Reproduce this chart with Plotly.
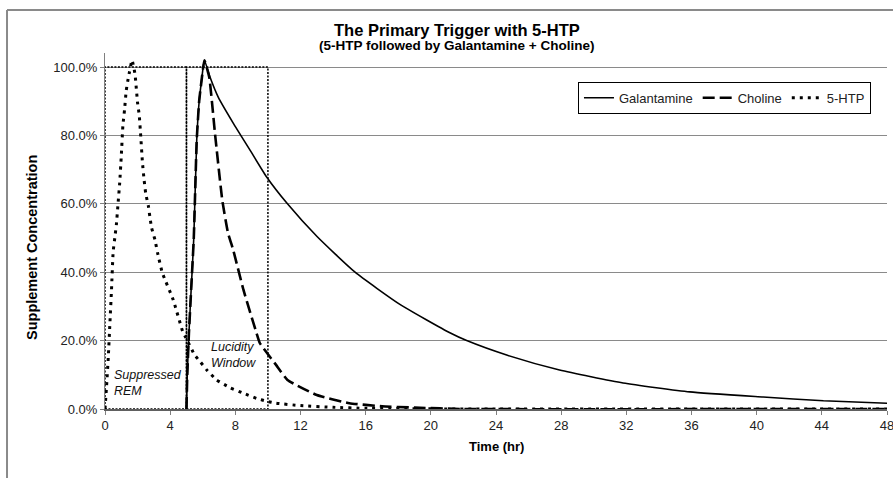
import plotly.graph_objects as go

# ---- data ----
time_gal = [5.0, 5.05, 5.15, 5.3, 5.45, 5.63, 5.78, 5.95, 6.1, 6.45, 6.95, 7.87, 8.9, 9.9,
            11.2, 13.0, 15.35, 18.1, 21.2, 22.2, 24.7, 27.9, 31.8, 35.9, 40.4, 44.1, 48.0]
conc_gal = [0.0, 0.10, 0.22, 0.36, 0.50, 0.786, 0.90, 0.97, 1.02, 0.97, 0.912, 0.836, 0.757, 0.68,
            0.60, 0.505, 0.40, 0.306, 0.222, 0.200, 0.157, 0.114, 0.076, 0.050, 0.035, 0.024, 0.017]

time_cho = [5.0, 5.05, 5.15, 5.3, 5.45, 5.63, 5.78, 5.95, 6.1, 6.4, 6.75, 7.2, 7.55, 7.87, 8.5,
            9.3, 9.5, 10.5, 11.2, 13.0, 15.0, 17.0, 19.0, 22.0, 48.0]
conc_cho = [0.0, 0.10, 0.22, 0.36, 0.50, 0.786, 0.90, 0.97, 1.02, 0.97, 0.806, 0.61, 0.515, 0.465, 0.348,
            0.222, 0.193, 0.129, 0.085, 0.041, 0.017, 0.008, 0.004, 0.0, 0.0]

time_htp = [0.0, 0.1, 0.2, 0.3, 0.4, 0.5, 0.6, 0.7, 0.8, 0.9, 1.0, 1.1, 1.2, 1.3, 1.4, 1.5, 1.66,
            1.84, 1.9, 2.0, 2.1, 2.2, 2.3, 2.4, 2.5, 2.66, 2.76, 2.86, 3.07, 3.23, 3.52, 4.19, 4.8,
            4.95, 5.5, 5.85, 6.25, 6.85, 7.65, 8.5, 9.3, 9.9, 10.5, 12.0, 14.0, 16.0, 20.0, 24.0, 48.0]
conc_htp = [0.0, 0.07, 0.15, 0.25, 0.35, 0.46, 0.50, 0.54, 0.60, 0.66, 0.74, 0.83, 0.875, 0.93, 0.96, 0.985, 1.02,
            0.98, 0.95, 0.895, 0.86, 0.793, 0.72, 0.67, 0.63, 0.594, 0.56, 0.53, 0.494, 0.456, 0.398, 0.319, 0.222,
            0.21, 0.158, 0.138, 0.114, 0.085, 0.063, 0.046, 0.031, 0.023, 0.017, 0.010, 0.005, 0.002, 0.0005, 0.0, 0.0]

x_ticks = list(range(0, 49, 4))
y_ticks = [0.0, 0.2, 0.4, 0.6, 0.8, 1.0]

# phases: (start hr, end hr, label)
phases = [(0, 5, "Suppressed<br>REM"), (5, 10, "Lucidity<br>Window")]
phase_label_pos = [(0.43, 0.075), (6.38, 0.159)]

FONT = "Arial, Liberation Sans, Helvetica, sans-serif"

fig = go.Figure()
fig.add_trace(go.Scatter(x=time_gal, y=conc_gal, name="Galantamine", mode="lines",
                         line=dict(color="black", width=1.6, shape="spline", smoothing=0.5)))
fig.add_trace(go.Scatter(x=time_cho, y=conc_cho, name="Choline", mode="lines",
                         line=dict(color="black", width=2.6, dash="12px,5px", shape="spline", smoothing=0.4)))
fig.add_trace(go.Scatter(x=time_htp, y=conc_htp, name="5-HTP", mode="lines",
                         line=dict(color="black", width=3, dash="3px,5px", shape="spline", smoothing=0.4)))

shapes = []
for (a, b, _lbl) in phases:
    shapes.append(dict(type="rect", xref="x", yref="y", x0=a, x1=b, y0=0, y1=1,
                       line=dict(color="black", width=1.5, dash="2px,1.5px"), layer="between"))
# outer chart frame (left and top edges visible)
shapes.append(dict(type="line", xref="paper", yref="paper", x0=-0.1253, x1=-0.1253, y0=-0.4, y1=1.1208,
                   line=dict(color="#8a8a8a", width=2)))
shapes.append(dict(type="line", xref="paper", yref="paper", x0=-0.1253, x1=1.3, y0=1.1208, y1=1.1208,
                   line=dict(color="#8a8a8a", width=2)))

annotations = []
for (a, b, lbl), (lx, ly) in zip(phases, phase_label_pos):
    annotations.append(dict(x=lx, y=ly, xref="x", yref="y", text="<i>" + lbl + "</i>",
                            showarrow=False, xanchor="left", yanchor="middle", align="left",
                            font=dict(family=FONT, size=12.5, color="#111")))
annotations += [
    dict(x=0.4495, y=1.0646, xref="paper", yref="paper", text="<b>The Primary Trigger with 5-HTP</b>",
         showarrow=False, xanchor="center", yanchor="middle", font=dict(family=FONT, size=16.5, color="black")),
    dict(x=0.4495, y=1.0199, xref="paper", yref="paper",
         text="<b>(5-HTP followed by Galantamine + Choline)</b>",
         showarrow=False, xanchor="center", yanchor="middle", font=dict(family=FONT, size=13.5, color="black")),
    dict(x=0.5, y=-0.1067, xref="paper", yref="paper", text="<b>Time (hr)</b>",
         showarrow=False, xanchor="center", yanchor="middle", font=dict(family=FONT, size=13, color="black")),
    dict(x=-0.0934, y=0.455, xref="paper", yref="paper", text="<b>Supplement Concentration</b>", textangle=-90,
         showarrow=False, xanchor="center", yanchor="middle", font=dict(family=FONT, size=14.5, color="black")),
]

fig.update_layout(
    width=893, height=478,
    margin=dict(l=105, r=6, t=53, b=69),
    paper_bgcolor="white", plot_bgcolor="white",
    font=dict(family=FONT, size=13, color="#222"),
    showlegend=True,
    legend=dict(orientation="h", x=0.9795, xanchor="right", y=0.919, yanchor="top",
                bordercolor="black", borderwidth=1, bgcolor="white",
                font=dict(family=FONT, size=13, color="#222"),
                itemwidth=30, tracegroupgap=0),
    xaxis=dict(range=[0, 48], tickvals=x_ticks, ticks="outside", ticklen=4, tickcolor="#808080",
               showline=True, linecolor="#606060", linewidth=1.5, showgrid=False, zeroline=False,
               automargin=False, ticklabeloverflow="allow",
               tickfont=dict(family=FONT, size=13, color="#222")),
    yaxis=dict(range=[0, 1.041], tickvals=y_ticks, tickformat=".1%", ticks="outside", ticklen=4,
               tickcolor="#808080", showline=True, linecolor="#808080", linewidth=1,
               showgrid=True, gridcolor="#8a8a8a", gridwidth=1, zeroline=False,
               automargin=False, tickfont=dict(family=FONT, size=13, color="#222")),
    shapes=shapes,
    annotations=annotations,
)

fig.write_html("out.html", config={"displayModeBar": False},
               post_script="document.body.style.margin='0px';")
